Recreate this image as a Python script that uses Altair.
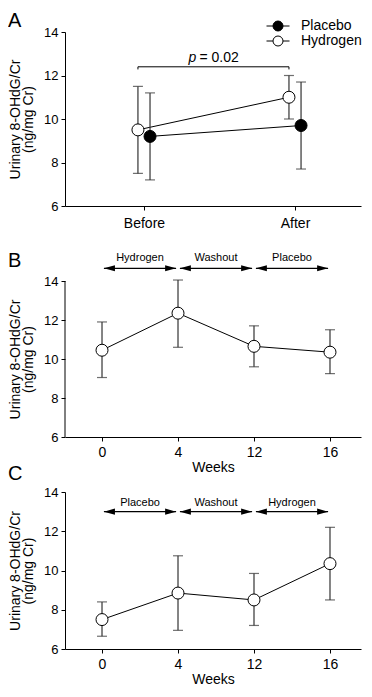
import json
import altair as alt
import pandas as pd

# ---------------- data ----------------
# Panel A
a_cats = ["Before", "After"]
a_groups = ["Placebo", "Hydrogen"]
placebo_mean = [9.2, 9.7]
placebo_lo = [7.2, 7.7]
placebo_hi = [11.2, 11.7]
hydrogen_mean = [9.5, 11.0]
hydrogen_lo = [7.5, 10.0]
hydrogen_hi = [11.5, 12.0]
p_text = "= 0.02"
p_bracket_y = 12.4
p_text_y = 12.8

# Panels B and C
weeks = ["0", "4", "12", "16"]
b_mean = [10.45, 12.35, 10.65, 10.35]
b_lo = [9.05, 10.6, 9.6, 9.25]
b_hi = [11.9, 14.05, 11.7, 11.5]
b_phases = ["Hydrogen", "Washout", "Placebo"]
b_arrow_y = 14.65
b_label_y = 15.2

c_mean = [7.5, 8.85, 8.5, 10.35]
c_lo = [6.65, 6.95, 7.2, 8.5]
c_hi = [8.4, 10.75, 9.85, 12.2]
c_phases = ["Placebo", "Washout", "Hydrogen"]
c_arrow_y = 13.0
c_label_y = 13.45

y_ticks = [6, 8, 10, 12, 14]
y_title = ["Urinary 8-OHdG/Cr", "(ng/mg Cr)"]

# ---------------- style ----------------
FONT = "Liberation Sans"
W = 296
HA = 174
HB = 156
EXTRA = 20
HC = 157
DODGE = 0.04
ERR = "#333333"
PT_SIZE = 144
LEFT_HEAD = "M0,0L2,-0.55L2,0.55Z"
RIGHT_HEAD = "M0,0L-2,-0.55L-2,0.55Z"
LEG_SYMBOL = "M-2.3,0L-1,0M1,0L2.3,0M-1,0A1,1 0 1,1 1,0A1,1 0 1,1 -1,0Z"


def yaxis(domain=True, title_y=None):
    kw = dict(values=y_ticks, title=y_title, titleFontSize=14, titleLineHeight=13,
              titlePadding=8, labelFontSize=13, labelPadding=3, tickSize=4,
              domain=domain)
    if title_y is not None:
        kw["titleY"] = title_y
    return alt.Axis(**kw)


def panel_letter(letter, yv):
    return alt.Chart(pd.DataFrame({"t": [letter]})).mark_text(
        fontSize=20, font=FONT, align="left", baseline="middle", color="black"
    ).encode(text="t:N", x=alt.value(-57), y=alt.value(yv))


# ---------------- Panel A ----------------
rows = []
for g, m, lo, hi, off in [("Placebo", placebo_mean, placebo_lo, placebo_hi, DODGE),
                          ("Hydrogen", hydrogen_mean, hydrogen_lo, hydrogen_hi, -DODGE)]:
    for i, c in enumerate(a_cats):
        rows.append(dict(group=g, x=i + off, mean=m[i], lo=lo[i], hi=hi[i]))
dfa = pd.DataFrame(rows)

xa_scale = alt.Scale(domain=[-0.523, 1.437], nice=False, zero=False)
xa_axis = alt.Axis(values=list(range(len(a_cats))),
                   labelExpr=json.dumps(a_cats) + "[datum.value]",
                   title=None, labelFontSize=14, labelPadding=6, tickSize=4)
ya_scale = alt.Scale(domain=[6, 14], nice=False, zero=False)


def XA(f):
    return alt.X(f, type="quantitative", scale=xa_scale, axis=xa_axis)


def YA(f):
    return alt.Y(f, type="quantitative", scale=ya_scale, axis=yaxis())


baseA = alt.Chart(dfa)
a_lines = baseA.mark_line(color="black", strokeWidth=1).encode(
    x=XA("x"), y=YA("mean"), detail="group:N")
a_err = baseA.mark_rule(color=ERR, strokeWidth=1.2).encode(
    x=XA("x"), y=YA("lo"), y2="hi:Q")
a_cap_lo = baseA.mark_tick(orient="horizontal", size=10, thickness=1.2, color=ERR).encode(
    x=XA("x"), y=YA("lo"))
a_cap_hi = baseA.mark_tick(orient="horizontal", size=10, thickness=1.2, color=ERR).encode(
    x=XA("x"), y=YA("hi"))
a_pts = baseA.mark_circle(size=PT_SIZE, stroke="black", strokeWidth=1, opacity=1).encode(
    x=XA("x"), y=YA("mean"),
    fill=alt.Fill("group:N", scale=alt.Scale(domain=a_groups, range=["black", "white"]),
                  legend=alt.Legend(orient="none", legendX=206, legendY=-13, title=None,
                                    symbolType=LEG_SYMBOL, symbolSize=100,
                                    symbolStrokeColor="black", symbolStrokeWidth=1,
                                    symbolOpacity=1, labelFontSize=14, labelFont=FONT,
                                    labelColor="black", labelOffset=16, rowPadding=1)))

# significance bracket between hydrogen points
hx0 = 0 - DODGE
hx1 = 1 - DODGE
br = pd.DataFrame({"x": [hx0], "x2": [hx1], "y": [p_bracket_y]})
br_ends = pd.DataFrame({"x": [hx0, hx1], "y": [p_bracket_y] * 2, "y2": [p_bracket_y - 0.12] * 2})
a_br = alt.Chart(br).mark_rule(color="black", strokeWidth=1).encode(
    x=XA("x"), x2="x2:Q", y=YA("y"))
a_br_ends = alt.Chart(br_ends).mark_rule(color="black", strokeWidth=1).encode(
    x=XA("x"), y=YA("y"), y2="y2:Q")
ptxt = pd.DataFrame({"x": [(hx0 + hx1) / 2], "y": [p_text_y], "p": ["p"], "t": [p_text]})
a_p = alt.Chart(ptxt).mark_text(fontSize=14, font=FONT, fontStyle="italic", align="left",
                                baseline="middle", dx=-25, color="black").encode(
    x=XA("x"), y=YA("y"), text="p:N")
a_t = alt.Chart(ptxt).mark_text(fontSize=14, font=FONT, align="left", baseline="middle",
                                dx=-14, color="black").encode(
    x=XA("x"), y=YA("y"), text="t:N")

chartA = alt.layer(a_lines, a_err, a_cap_lo, a_cap_hi, a_br, a_br_ends, a_p, a_t, a_pts,
                   panel_letter("A", -11)).properties(width=W, height=HA)


# ---------------- Panels B / C ----------------
def week_panel(mean, lo, hi, phases, arrow_y, label_y, letter, letter_y, height, ytop, extra):
    df = pd.DataFrame({"x": list(range(len(weeks))), "mean": mean, "lo": lo, "hi": hi})
    gap = 0.025
    ph = pd.DataFrame({"name": phases,
                       "start": [i + gap for i in range(len(phases))],
                       "end": [i + 1 - gap for i in range(len(phases))],
                       "mid": [i + 0.5 for i in range(len(phases))],
                       "y": [arrow_y] * len(phases),
                       "ly": [label_y] * len(phases)})
    xs = alt.Scale(domain=[-0.487, 3.408], nice=False, zero=False)
    xax = alt.Axis(values=list(range(len(weeks))),
                   labelExpr=json.dumps(weeks) + "[datum.value]",
                   title="Weeks", titleFontSize=14, titleFontWeight="normal",
                   titlePadding=1, labelFontSize=14, labelPadding=4, tickSize=4)
    ys = alt.Scale(domain=[6, ytop], nice=False, zero=False)
    yax = yaxis(domain=(extra == 0), title_y=extra + (height - extra) / 2)

    def X(f):
        return alt.X(f, type="quantitative", scale=xs, axis=xax)

    def Y(f):
        return alt.Y(f, type="quantitative", scale=ys, axis=yax)

    base = alt.Chart(df)
    layers = [
        base.mark_line(color="black", strokeWidth=1).encode(x=X("x"), y=Y("mean")),
        base.mark_rule(color=ERR, strokeWidth=1.2).encode(x=X("x"), y=Y("lo"), y2="hi:Q"),
        base.mark_tick(orient="horizontal", size=10, thickness=1.2, color=ERR).encode(
            x=X("x"), y=Y("lo")),
        base.mark_tick(orient="horizontal", size=10, thickness=1.2, color=ERR).encode(
            x=X("x"), y=Y("hi")),
        base.mark_circle(size=PT_SIZE, stroke="black", strokeWidth=1, opacity=1,
                         fill="white").encode(x=X("x"), y=Y("mean")),
    ]
    pb = alt.Chart(ph)
    layers += [
        pb.mark_rule(color="black", strokeWidth=1.4).encode(x=X("start"), x2="end:Q", y=Y("y")),
        pb.mark_point(shape=LEFT_HEAD, size=121, filled=True, color="black", opacity=1).encode(
            x=X("start"), y=Y("y")),
        pb.mark_point(shape=RIGHT_HEAD, size=121, filled=True, color="black", opacity=1).encode(
            x=X("end"), y=Y("y")),
        pb.mark_text(fontSize=11, font=FONT, baseline="middle", color="black").encode(
            x=X("mid"), y=Y("ly"), text="name:N"),
    ]
    if extra:
        axl = pd.DataFrame({"a": [6], "b": [14]})
        layers.append(alt.Chart(axl).mark_rule(color="black", strokeWidth=1).encode(
            x=alt.value(0), y=Y("a"), y2="b:Q"))
    layers.append(panel_letter(letter, letter_y))
    return alt.layer(*layers).properties(width=W, height=height)


hb_total = HB + EXTRA
b_top = 14 + EXTRA / HB * 8
chartB = week_panel(b_mean, b_lo, b_hi, b_phases, b_arrow_y, b_label_y, "B", 0,
                    hb_total, b_top, EXTRA)
chartC = week_panel(c_mean, c_lo, c_hi, c_phases, c_arrow_y, c_label_y, "C", -18,
                    HC, 14, 0)

chart = alt.vconcat(chartA, chartB, chartC, spacing=55, bounds="flush").properties(
    padding={"left": 0, "top": 3, "right": 0, "bottom": 0}, background="white"
).configure_view(stroke=None).configure_axis(
    grid=False, domainColor="black", tickColor="black", labelColor="black",
    titleColor="black", labelFont=FONT, titleFont=FONT, titleFontWeight="normal",
    domainWidth=1, tickWidth=1
)

chart.save("out.html", embed_options={"renderer": "svg", "actions": False})
